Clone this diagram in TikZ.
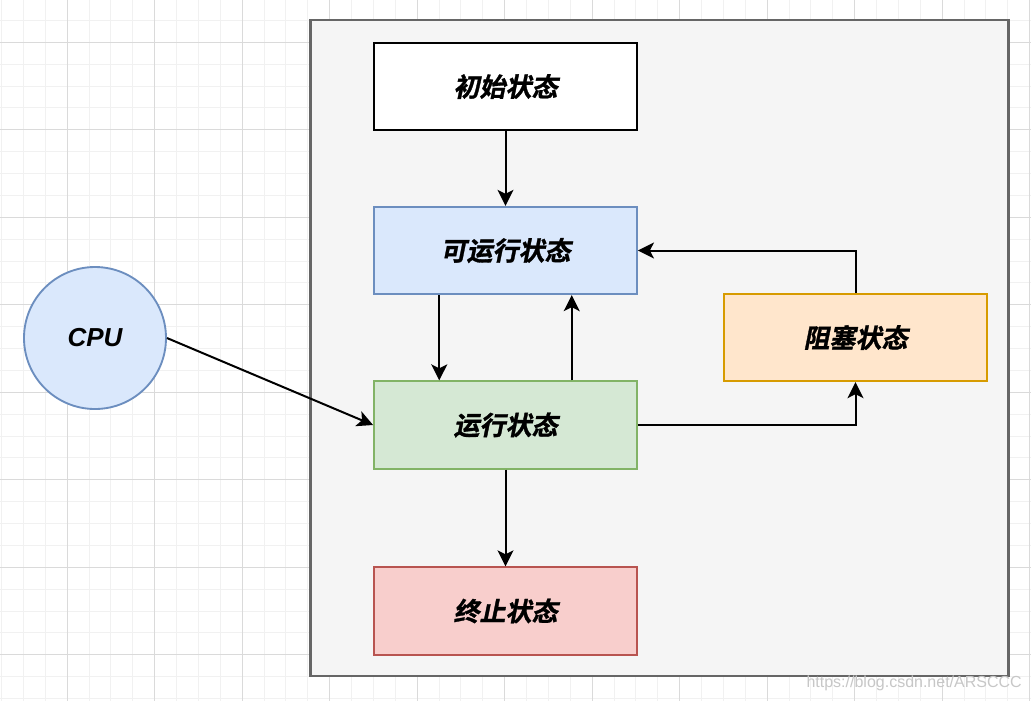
\documentclass[tikz,border=0pt]{standalone}
\usepackage{fontspec}
\setmainfont{Liberation Sans}
\newfontfamily\cjk[FakeSlant=0.2,FakeBold=1.2]{Noto Sans CJK SC Bold}
\usetikzlibrary{calc,arrows.meta}
\definecolor{gridMinor}{HTML}{F1F1F1}
\definecolor{gridMajor}{HTML}{DADADA}
\definecolor{panelFill}{HTML}{F5F5F5}
\definecolor{panelLine}{HTML}{666666}
\definecolor{blueFill}{HTML}{DAE8FC}
\definecolor{blueLine}{HTML}{6C8EBF}
\definecolor{greenFill}{HTML}{D5E8D4}
\definecolor{greenLine}{HTML}{82B366}
\definecolor{redFill}{HTML}{F8CECC}
\definecolor{redLine}{HTML}{B85450}
\definecolor{orangeFill}{HTML}{FFE6CC}
\definecolor{orangeLine}{HTML}{D79B00}
\tikzset{
	state/.style={draw, rectangle, line width=1.4pt, minimum width=197.25pt, minimum height=65.6pt, inner sep=0pt, font=\cjk\fontsize{19.5}{20}\selectfont},
	link/.style={line width=1.5pt, -{Stealth[length=12pt,width=12pt,inset=3pt]}}
}

\begin{document}
\begin{tikzpicture}[x=0.75pt,y=-0.75pt]
				\fill[white] (0,0) rectangle (1031,701);
				\useasboundingbox (0,0) rectangle (1031,701);
				
				\begin{scope}
					\clip (0,0) rectangle (1031,701);
					\foreach \k in {0,...,47}
						\draw[gridMinor, line width=0.75pt] ({1.6+21.875*\k},0) -- ({1.6+21.875*\k},701);
					\foreach \k in {0,...,33}
						\draw[gridMinor, line width=0.75pt] (0,{-1.5+21.875*\k}) -- (1031,{-1.5+21.875*\k});
					\foreach \k in {-1,...,11}
						\draw[gridMajor, line width=0.75pt] ({67.3+87.5*\k},0) -- ({67.3+87.5*\k},701);
					\foreach \k in {-1,...,8}
						\draw[gridMajor, line width=0.75pt] (0,{42.3+87.5*\k}) -- (1031,{42.3+87.5*\k});
				\end{scope}
				
				\draw[fill=panelFill, draw=panelLine, line width=1.6pt] (310.5,20) rectangle (1008.5,676);
				
				\node[state, fill=white] (init) at (505.5,86.5) {初始状态};
				\node[state, fill=blueFill, draw=blueLine] (ready) at (505.5,250.5) {可运行状态};
				\node[state, fill=greenFill, draw=greenLine] (run) at (505.5,425) {运行状态};
				\node[state, fill=redFill, draw=redLine] (stop) at (505.5,611) {终止状态};
				\node[state, fill=orangeFill, draw=orangeLine] (block) at (855.5,337.5) {阻塞状态};
				\node[draw=blueLine, fill=blueFill, circle, line width=1.4pt, minimum size=106.5pt, inner sep=0pt, font=\bfseries\itshape\fontsize{19.5}{20}\selectfont] (cpu) at (95,338) {CPU};
				
				\draw[link] (init) -- (ready);
				\draw[link] ($(ready.south west)!0.25!(ready.south east)$) -- ($(run.north west)!0.25!(run.north east)$);
				\draw[link] ($(run.north west)!0.75!(run.north east)$) -- ($(ready.south west)!0.75!(ready.south east)$);
				\draw[link] (run.east) -| (block.south);
				\draw[link] (block.north) |- (ready.east);
				\draw[link] (run) -- (stop);
				\draw[link] (cpu.east) -- (run.west);
				
				\node[anchor=east, text=black!22, font=\fontsize{12}{12}\selectfont, inner sep=0pt] (mark) at (1022,683) {https://blog.csdn.net/ARSCCC};
			\end{tikzpicture}
\end{document}
